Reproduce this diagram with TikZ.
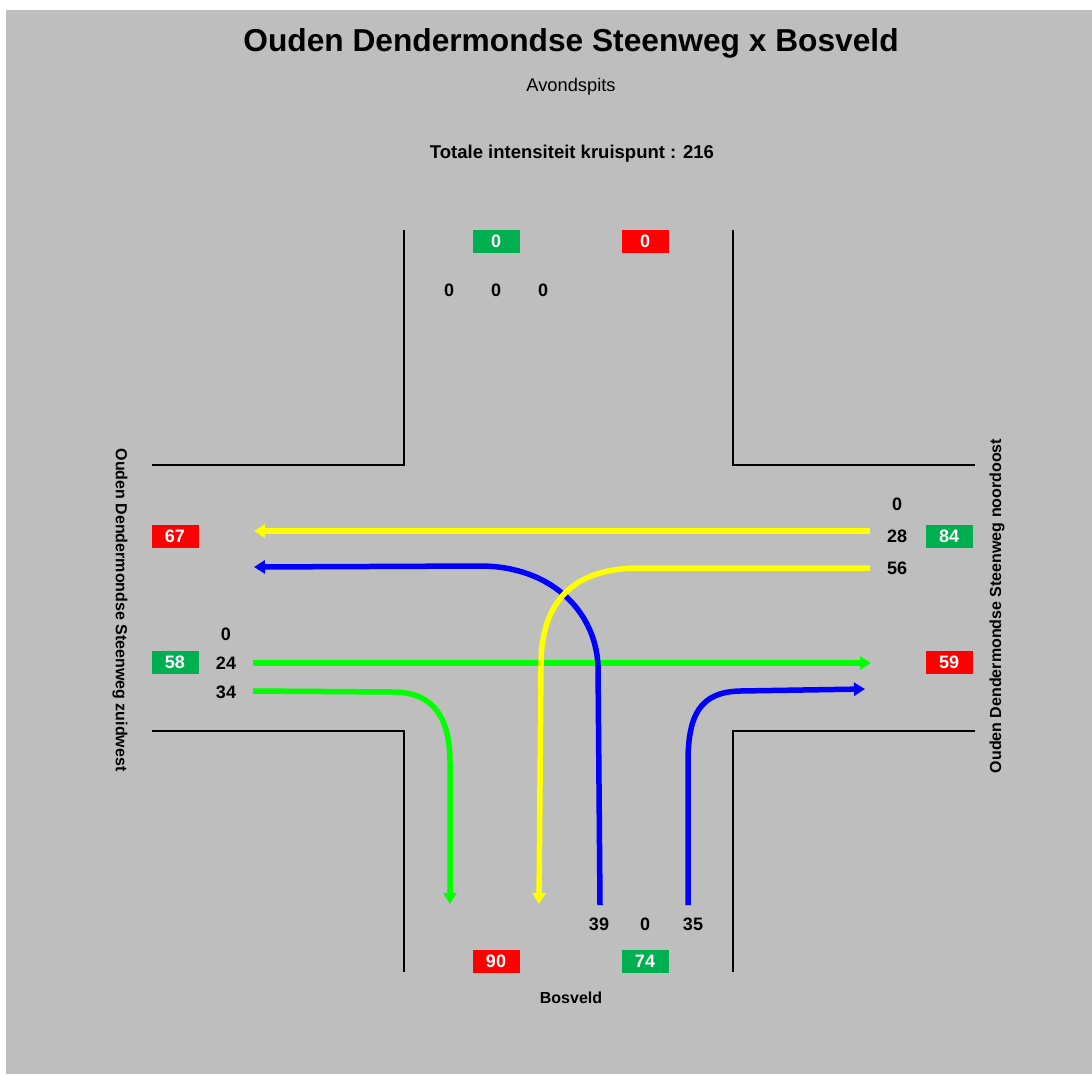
\documentclass[tikz,border=0pt]{standalone}
\usepackage{fontspec}
\setmainfont{Liberation Sans}
\usetikzlibrary{arrows.meta}
\definecolor{bg}{RGB}{190,190,190}
\definecolor{boxgreen}{RGB}{0,176,80}
\definecolor{boxred}{RGB}{255,0,0}
\definecolor{flowgreen}{RGB}{0,255,0}
\definecolor{flowyellow}{RGB}{255,255,0}
\definecolor{flowblue}{RGB}{0,0,255}
\tikzset{
  gbox/.style={fill=boxgreen, text=white, minimum width=47pt, minimum height=23pt, inner sep=0pt, font=\fontsize{18}{20}\selectfont\bfseries},
  rbox/.style={gbox, fill=boxred},
  num/.style={inner sep=0pt, font=\fontsize{18}{20}\selectfont\bfseries},
  roadlabel/.style={inner sep=0pt, font=\fontsize{16}{18}\selectfont\bfseries},
  road/.style={line width=2pt, black},
  flow/.style={line width=5.5pt, -{Triangle[length=11pt,width=13pt]}},
}
\begin{document}
\begin{tikzpicture}[x=1pt,y=-1pt]
\useasboundingbox (0,0) rectangle (1092,1074);
\fill[white] (0,0) rectangle (1092,1074);
\fill[bg] (6,10) rectangle (1092,1074);

% titles
\node[inner sep=0pt, font=\fontsize{31.7}{34}\selectfont\bfseries] (title) at (571,43) {Ouden Dendermondse Steenweg x Bosveld};
\node[inner sep=0pt, font=\fontsize{18.3}{20}\selectfont] (sub) at (571,87) {Avondspits};
\node[inner sep=0pt, font=\fontsize{18.5}{20}\selectfont\bfseries] (tot) at (572,154) {Totale intensiteit kruispunt : 216};

% road edges
\draw[road] (404,230) -- (404,465) -- (152,465);
\draw[road] (733,230) -- (733,465) -- (975,465);
\draw[road] (152,731) -- (404,731) -- (404,972);
\draw[road] (975,731) -- (733,731) -- (733,972);

% boxes
\node[gbox] (ng) at (496,241) {0};
\node[rbox] (nr) at (645,241) {0};
\node[rbox] (wr) at (175,536) {67};
\node[gbox] (wg) at (175,662) {58};
\node[gbox] (eg) at (949,536) {84};
\node[rbox] (er) at (949,662) {59};
\node[rbox] (sr) at (496,961) {90};
\node[gbox] (sg) at (645,961) {74};

% numbers
\node[num] (n1) at (449,290) {0};
\node[num] (n2) at (496,290) {0};
\node[num] (n3) at (543,290) {0};
\node[num] (w1) at (226,634) {0};
\node[num] (w2) at (226,663) {24};
\node[num] (w3) at (226,692) {34};
\node[num] (e1) at (897,504) {0};
\node[num] (e2) at (897,536) {28};
\node[num] (e3) at (897,568) {56};
\node[num] (s1) at (599,924) {39};
\node[num] (s2) at (645,924) {0};
\node[num] (s3) at (693,924) {35};

% road labels
\node[roadlabel] (lblS) at (571,998) {Bosveld};
\node[roadlabel, rotate=-90] (lblW) at (120,610) {Ouden Dendermondse Steenweg zuidwest};
\node[roadlabel, rotate=90] (lblE) at (997,606) {Ouden Dendermondse Steenweg noordoost};

% flow coordinates
\coordinate (eA) at (870,531);  \coordinate (wA) at (254,531);
\coordinate (eB) at (870,568);  \coordinate (sB) at (539,904);
\coordinate (sC) at (600,905);  \coordinate (wC) at (254,567);
\coordinate (wD) at (253,663);  \coordinate (eD) at (871,663);
\coordinate (wE) at (253,691);  \coordinate (sE) at (450,904);
\coordinate (sF) at (688,905);  \coordinate (eF) at (865,689);

% flows
\draw[flow, flowgreen] (wD) -- (eD);
\draw[flow, flowgreen] (wE) -- (393,692) .. controls (435,692) and (450,720) .. (450,762) -- (sE);
\draw[flow, flowblue] (sF) -- (688,762) .. controls (688,715) and (700,692) .. (740,691) -- (eF);
\draw[flow, flowyellow] (eA) -- (wA);
\draw[flow, flowblue] (sC) -- (598,665) .. controls (595,610) and (550,566) .. (480,566) -- (wC);
\draw[flow, flowyellow] (eB) -- (640,568) .. controls (565,568) and (541,610) .. (541,665) -- (sB);
\end{tikzpicture}
\end{document}
